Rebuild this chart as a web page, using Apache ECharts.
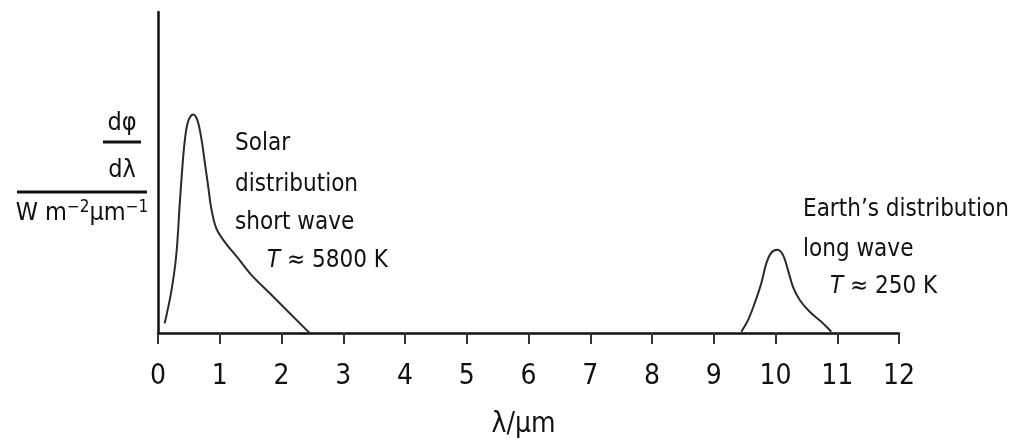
<!DOCTYPE html>
<html>
<head>
<meta charset="utf-8">
<script src="https://cdn.jsdelivr.net/npm/echarts@6/dist/echarts.min.js"></script>
<style>html,body{margin:0;padding:0;background:#fff}#c{width:1011px;height:446px}</style>
</head>
<body>
<div id="c"></div>
<script>
// Wavelength (µm) and relative dφ/dλ (arbitrary units)
const solarX = [0.108, 0.215, 0.296, 0.351, 0.389, 0.432, 0.486, 0.567, 0.636, 0.701, 0.756, 0.810, 0.863, 0.944, 1.080, 1.296, 1.511, 1.867, 2.408, 2.46];
const solarY = [3.0, 12.9, 24.3, 39.9, 50.2, 59.6, 65.8, 68.1, 66.4, 60.7, 53.4, 46.1, 38.8, 32.6, 28.4, 23.3, 18.1, 11.3, 0.9, 0];
const earthX = [9.446, 9.555, 9.663, 9.770, 9.851, 9.932, 10.029, 10.121, 10.202, 10.283, 10.392, 10.554, 10.742, 10.904];
const earthY = [0.4, 4.0, 9.3, 15.5, 21.7, 25.0, 25.9, 24.3, 19.6, 14.4, 10.3, 6.6, 3.5, 0.4];
const xTicks = [0,1,2,3,4,5,6,7,8,9,10,11,12];

const FONT = '"Liberation Sans Narrow","DejaVu Sans Condensed","Liberation Sans",sans-serif';
const zip = (xs, ys) => xs.map((x, i) => [x, ys[i]]);
const ann = '24px ' + FONT;
const ital = { i: { fontStyle: 'italic', fontFamily: FONT, fontSize: 24, fill: '#111' } };

const chart = echarts.init(document.getElementById('c'));
chart.setOption({
  animation: false,
  backgroundColor: '#fff',
  grid: { left: 158, right: 112, top: 12, bottom: 113 },
  xAxis: {
    type: 'value', min: xTicks[0], max: xTicks[xTicks.length - 1], interval: 1,
    name: 'λ/μm', nameLocation: 'middle', nameGap: 78,
    nameTextStyle: { fontFamily: FONT, fontSize: 28, color: '#111', padding: [0, 10, 0, 0] },
    axisLine: { show: true, lineStyle: { color: '#111', width: 2.5 } },
    axisTick: { show: true, length: 11, lineStyle: { color: '#333', width: 2 } },
    axisLabel: { margin: 30, fontFamily: FONT, fontSize: 28, color: '#111',
      formatter: v => xTicks.includes(v) ? String(v) : '' },
    splitLine: { show: false }
  },
  yAxis: {
    type: 'value', min: 0, max: 100,
    axisLine: { show: true, lineStyle: { color: '#111', width: 2.5 } },
    axisTick: { show: false }, axisLabel: { show: false }, splitLine: { show: false }
  },
  series: [
    { type: 'line', data: zip(solarX, solarY), smooth: 0.35, symbol: 'none',
      lineStyle: { color: '#2a2a2a', width: 2 } },
    { type: 'line', data: zip(earthX, earthY), smooth: 0.35, symbol: 'none',
      lineStyle: { color: '#2a2a2a', width: 2 } }
  ],
  graphic: [
    { type: 'text', left: 235, top: 132, style: { text: 'Solar', font: ann, fill: '#111' } },
    { type: 'text', left: 235, top: 173, style: { text: 'distribution', font: ann, fill: '#111' } },
    { type: 'text', left: 235, top: 211, style: { text: 'short wave', font: ann, fill: '#111' } },
    { type: 'text', left: 267, top: 249, style: { text: '{i|T} ≈ 5800 K', font: ann, fill: '#111', rich: ital } },
    { type: 'text', left: 803, top: 198, style: { text: 'Earth’s distribution', font: ann, fill: '#111' } },
    { type: 'text', left: 803, top: 238, style: { text: 'long wave', font: ann, fill: '#111' } },
    { type: 'text', left: 830, top: 275, style: { text: '{i|T} ≈ 250 K', font: ann, fill: '#111', rich: ital } },
    // y-axis quantity label as a fraction
    { type: 'text', x: 122, y: 123, style: { text: 'dφ', font: '25px ' + FONT, fill: '#111', align: 'center', verticalAlign: 'middle' } },
    { type: 'line', shape: { x1: 103, y1: 142, x2: 141, y2: 142 }, style: { stroke: '#111', lineWidth: 3 } },
    { type: 'text', x: 122, y: 170, style: { text: 'dλ', font: '25px ' + FONT, fill: '#111', align: 'center', verticalAlign: 'middle' } },
    { type: 'line', shape: { x1: 17, y1: 192, x2: 147, y2: 192 }, style: { stroke: '#111', lineWidth: 3 } },
    { type: 'text', x: 82, y: 213, style: { text: 'W m{s|−2}μm{s|−1}', font: '25px ' + FONT, fill: '#111', align: 'center', verticalAlign: 'middle',
      rich: { s: { fontFamily: FONT, fontSize: 17, fill: '#111', verticalAlign: 'top', padding: [0, 0, 11, 0] } } } }
  ]
});
</script>
</body>
</html>
